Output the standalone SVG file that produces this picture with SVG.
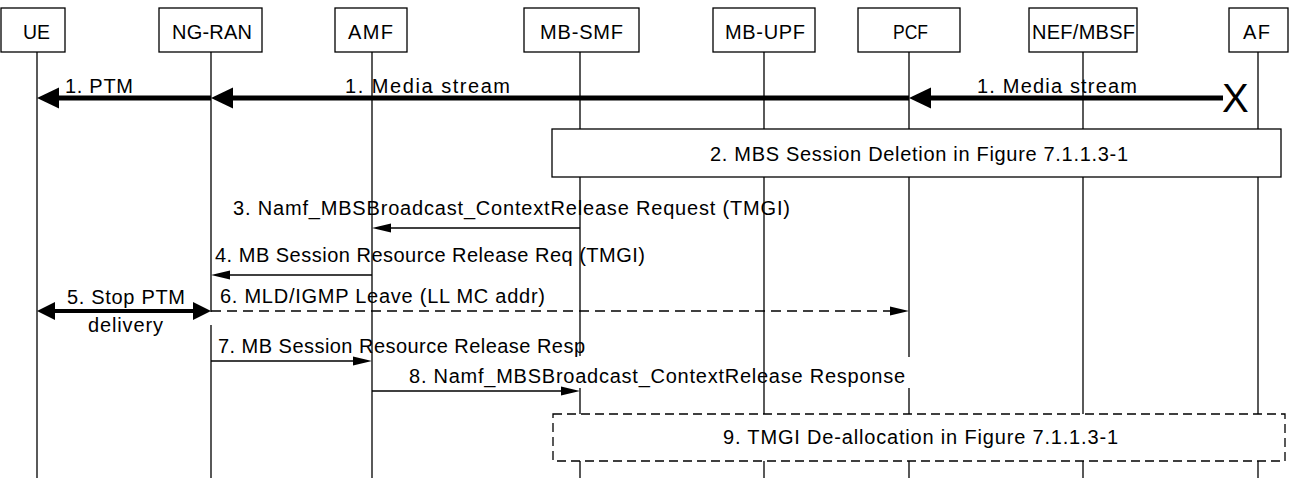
<svg xmlns="http://www.w3.org/2000/svg" width="1289" height="479" viewBox="0 0 1289 479">
<style>
  .box{fill:#fff;stroke:#000;stroke-width:1.3}
  .life{fill:none;stroke:#000;stroke-width:1.3}
  .t{font-family:"Liberation Sans",Arial,sans-serif;font-size:20px;fill:#000}
  .thin{stroke:#000;stroke-width:1.3;fill:none}
  .thick{stroke:#000;stroke-width:5;fill:none}
  .thick5{stroke:#000;stroke-width:4;fill:none}
  .dash{stroke-dasharray:10,6}
  .dbox{stroke-dasharray:9,5}
</style>
<defs>
  <marker id="ah" markerUnits="userSpaceOnUse" markerWidth="19" markerHeight="9" refX="0" refY="4.5" orient="auto" overflow="visible">
    <path d="M0,0 L19,4.5 L0,9 z" fill="#000"/>
  </marker>
  <marker id="ahT" markerUnits="userSpaceOnUse" markerWidth="22" markerHeight="21" refX="0" refY="10.5" orient="auto" overflow="visible">
    <path d="M0,0 L22,10.5 L0,21 z" fill="#000"/>
  </marker>
  <marker id="ahD" markerUnits="userSpaceOnUse" markerWidth="18" markerHeight="18" refX="0" refY="9" orient="auto-start-reverse" overflow="visible">
    <path d="M0,0 L18,9 L0,18 z" fill="#000"/>
  </marker>
</defs>

<g id="UE">
  <path class="life" d="M37,52 V478"/>
  <rect class="box" x="1" y="8" width="64" height="44"/>
  <text class="t" x="23" y="39" textLength="27" lengthAdjust="spacingAndGlyphs">UE</text>
</g>
<g id="NG-RAN">
  <path class="life" d="M211,52 V312 M211,325 V478"/>
  <rect class="box" x="159" y="8" width="103" height="44"/>
  <text class="t" x="172" y="39" textLength="80">NG-RAN</text>
</g>
<g id="AMF">
  <path class="life" d="M372,52 V478"/>
  <rect class="box" x="335" y="8" width="72" height="44"/>
  <text class="t" x="348" y="39" textLength="45">AMF</text>
</g>
<g id="MB-SMF">
  <path class="life" d="M580,52 V356 M580,388 V478"/>
  <rect class="box" x="524" y="8" width="115" height="44"/>
  <text class="t" x="540" y="39" textLength="83">MB-SMF</text>
</g>
<g id="MB-UPF">
  <path class="life" d="M764,52 V478"/>
  <rect class="box" x="713" y="8" width="102" height="44"/>
  <text class="t" x="725" y="39" textLength="80">MB-UPF</text>
</g>
<g id="PCF">
  <path class="life" d="M909,52 V357 M909,388 V478"/>
  <rect class="box" x="858" y="8" width="102" height="44"/>
  <text class="t" x="893" y="39" textLength="35" lengthAdjust="spacingAndGlyphs">PCF</text>
</g>
<g id="NEF-MBSF">
  <path class="life" d="M1083,52 V478"/>
  <rect class="box" x="1029" y="8" width="108" height="44"/>
  <text class="t" x="1032" y="39" textLength="103">NEF/MBSF</text>
</g>
<g id="AF">
  <path class="life" d="M1258,52 V478"/>
  <rect class="box" x="1229" y="8" width="59" height="44"/>
  <text class="t" x="1243" y="39" textLength="27">AF</text>
</g>

<g id="step2">
  <rect class="box" x="552" y="129" width="729" height="48"/>
  <text class="t" x="710" y="161" textLength="418">2. MBS Session Deletion in Figure 7.1.1.3-1</text>
</g>
<g id="step9">
  <rect class="box dbox" x="553" y="414" width="732" height="47"/>
  <text class="t" x="723" y="444" textLength="395">9. TMGI De-allocation in Figure 7.1.1.3-1</text>
</g>

<g id="connectors">
  <!-- 1. Media stream / PTM -->
  <line class="thick" x1="1223" y1="98" x2="931" y2="98" marker-end="url(#ahT)"/>
  <line class="thick" x1="909" y1="98" x2="233" y2="98" marker-end="url(#ahT)"/>
  <line class="thick" x1="211" y1="98" x2="59" y2="98" marker-end="url(#ahT)"/>
  <text class="t" x="1222" y="112" style="font-size:40px">X</text>
  <text class="t" x="65" y="93" textLength="68">1. PTM</text>
  <text class="t" x="345" y="93" textLength="165">1. Media stream</text>
  <text class="t" x="977" y="93" textLength="160">1. Media stream</text>

  <!-- 3 -->
  <line class="thin" x1="580" y1="228" x2="391" y2="228" marker-end="url(#ah)"/>
  <text class="t" x="233" y="215" textLength="557">3. Namf_MBSBroadcast_ContextRelease Request (TMGI)</text>

  <!-- 4 -->
  <line class="thin" x1="372" y1="275" x2="230" y2="275" marker-end="url(#ah)"/>
  <text class="t" x="215" y="262" textLength="430">4. MB Session Resource Release Req (TMGI)</text>

  <!-- 5 -->
  <line class="thick5" x1="55" y1="311" x2="193" y2="311" marker-start="url(#ahD)" marker-end="url(#ahD)"/>
  <text class="t" x="67" y="304" textLength="118">5. Stop PTM</text>
  <text class="t" x="88" y="332" textLength="75">delivery</text>

  <!-- 6 -->
  <line class="thin dash" x1="211" y1="311" x2="890" y2="311" marker-end="url(#ah)"/>
  <text class="t" x="220" y="303" textLength="325">6. MLD/IGMP Leave (LL MC addr)</text>

  <!-- 7 -->
  <line class="thin" x1="211" y1="361" x2="353" y2="361" marker-end="url(#ah)"/>
  <text class="t" x="218" y="353" textLength="367">7. MB Session Resource Release Resp</text>

  <!-- 8 -->
  <line class="thin" x1="372" y1="391" x2="561" y2="391" marker-end="url(#ah)"/>
  <text class="t" x="409" y="383" textLength="496">8. Namf_MBSBroadcast_ContextRelease Response</text>
</g>
</svg>
